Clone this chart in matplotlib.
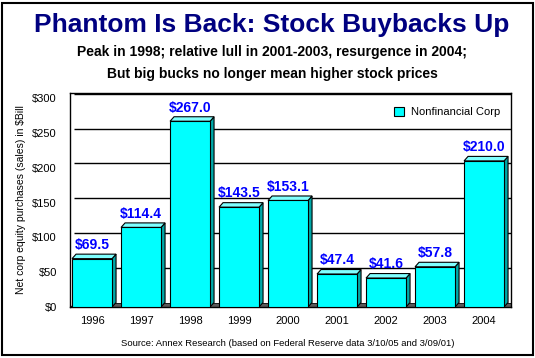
import matplotlib
matplotlib.use('Agg')
import matplotlib.pyplot as plt
from matplotlib.patches import Polygon, Rectangle
import numpy as np

# ---- data ----
years = ['1996', '1997', '1998', '1999', '2000', '2001', '2002', '2003', '2004']
values = [69.5, 114.4, 267.0, 143.5, 153.1, 47.4, 41.6, 57.8, 210.0]
series_name = 'Nonfinancial Corp'
yticks = [0, 50, 100, 150, 200, 250, 300]
ytick_labels = ['$0', '$50', '$100', '$150', '$200', '$250', '$300']

title = 'Phantom Is Back: Stock Buybacks Up'
subtitle1 = 'Peak in 1998; relative lull in 2001-2003, resurgence in 2004;'
subtitle2 = 'But big bucks no longer mean higher stock prices'
ylabel = 'Net corp equity purchases (sales) in $Bill'
source = 'Source: Annex Research (based on Federal Reserve data 3/10/05 and 3/09/01)'

plt.rcParams['font.family'] = ['Liberation Sans', 'DejaVu Sans']

W, H = 535, 358
fig = plt.figure(figsize=(W / 100, H / 100), dpi=100)
fig.patch.set_facecolor('white')

# outer border
fig.patches.append(Rectangle((2 / W, 3 / H), 531 / W, 352 / H, transform=fig.transFigure,
                             fill=False, edgecolor='black', lw=1.5))

ax = fig.add_axes([70 / W, (H - 307) / H, 441 / W, 214 / H])
x = np.arange(len(years))
xl, xr = -0.45, 8.55
ax.set_xlim(xl, xr)
ax.set_ylim(0, 307.6)

# depth of the 3D effect, converted from pixels to data units
p0 = ax.transData.transform((0, 0))
p1 = ax.transData.transform((1, 1))
dx = 4.0 / (p1[0] - p0[0])
dy = 4.5 / (p1[1] - p0[1])

bw = 0.816

# floor
ax.add_patch(Polygon([(xl, 0), (xr, 0), (xr, dy), (xl + dx, dy)], closed=True,
                     facecolor='#5a5a5a', edgecolor='black', lw=0.6, zorder=1))
# back-wall gridlines
ax.hlines(np.array(yticks[1:]) + dy, xl + dx, xr, color='black', lw=1.0, zorder=0.5)

bars = ax.bar(x, values, width=bw, color='#00FFFF', edgecolor='black', lw=0.8,
              zorder=3, label=series_name)

for xi, v in zip(x, values):
    x0, x1 = xi - bw / 2, xi + bw / 2
    ax.add_patch(Polygon([(x1, 0), (x1 + dx, dy), (x1 + dx, v + dy), (x1, v)], closed=True,
                         facecolor='#00A8A8', edgecolor='black', lw=0.8, zorder=2.9))
    ax.add_patch(Polygon([(x0, v), (x1, v), (x1 + dx, v + dy), (x0 + dx, v + dy)], closed=True,
                         facecolor='#80FFFF', edgecolor='black', lw=0.8, zorder=2.9))
    ax.annotate(f'${v:.1f}', (xi, v), xytext=(0, 7), textcoords='offset points',
                ha='center', va='baseline', color='#0000FF', fontsize=10,
                fontweight='bold', zorder=5)

ax.set_xticks(x, years)
ax.set_yticks(yticks, ytick_labels)
ax.tick_params(axis='x', length=0, pad=6.5, labelsize=8)
ax.tick_params(axis='y', length=0, pad=9.5, labelsize=8)
for s in ax.spines.values():
    s.set_linewidth(1.0)
    s.set_color('black')

ax.set_ylabel(ylabel, fontsize=7.5)
ax.yaxis.set_label_coords(-0.10, 0.5)

fig.legend(handles=[bars], labels=[series_name], loc='center left',
           bbox_to_anchor=(394 / W, 1 - 112 / H), frameon=False, fontsize=8,
           handlelength=0.9, handleheight=0.9, handletextpad=0.6,
           borderpad=0, borderaxespad=0)

fig.text(272 / W, 1 - 32 / H, title, ha='center', va='baseline', color='#000080',
         fontsize=19, fontweight='bold')
fig.text(272 / W, 1 - 56 / H, subtitle1, ha='center', va='baseline', color='black',
         fontsize=10, fontweight='bold')
fig.text(272 / W, 1 - 78 / H, subtitle2, ha='center', va='baseline', color='black',
         fontsize=10, fontweight='bold')
fig.text(288 / W, 1 - 344 / H, source, ha='center', va='center', color='black', fontsize=6.8)

fig.savefig('out.png', dpi=100)
